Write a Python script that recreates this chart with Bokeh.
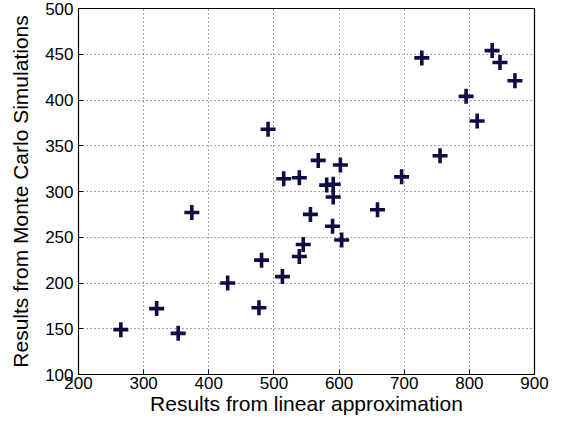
from bokeh.plotting import figure
from bokeh.models import FixedTicker, Range1d
from bokeh.embed import file_html
from bokeh.resources import INLINE

# Data
linear_approx = [491, 727, 835, 847, 870, 795, 812, 755, 696, 568, 602, 515, 539, 581, 591,
                 591, 374, 556, 659, 590, 604, 545, 539, 481, 513, 429, 477, 320, 265, 353]
monte_carlo = [368, 446, 454, 441, 421, 404, 377, 339, 316, 334, 329, 314, 315, 307, 308,
               294, 277, 275, 280, 262, 247, 242, 229, 225, 207, 200, 173, 172, 149, 145]
x_ticks = [200, 300, 400, 500, 600, 700, 800, 900]
y_ticks = [100, 150, 200, 250, 300, 350, 400, 450, 500]

FONT = "Liberation Sans"

p = figure(width=555, height=417, output_backend="svg", toolbar_location=None,
           x_range=Range1d(200, 900), y_range=Range1d(100, 500),
           min_border_left=78, min_border_right=21, min_border_top=8, min_border_bottom=0)
p.background_fill_color = "white"
p.border_fill_color = "white"
p.outline_line_color = "black"
p.outline_line_width = 1.2

p.scatter(linear_approx, monte_carlo, marker="cross", size=15, line_width=3.6,
          line_color="#0e0e45")

xax = p.below[0]
yax = p.left[0]
for ax in (xax, yax):
    ax.major_label_text_font = FONT
    ax.major_label_text_font_size = "17px"
    ax.major_label_text_color = "black"
    ax.axis_label_text_font = FONT
    ax.axis_label_text_font_size = "21px"
    ax.axis_label_text_font_style = "normal"
    ax.axis_label_text_color = "black"
    ax.major_tick_in = 5
    ax.major_tick_out = 0
    ax.minor_tick_in = 0
    ax.minor_tick_out = 0
    ax.axis_line_color = "black"
    ax.major_tick_line_color = "black"

xax.ticker = FixedTicker(ticks=x_ticks)
yax.ticker = FixedTicker(ticks=y_ticks)
xax.axis_label = "Results from linear approximation"
yax.axis_label = "Results from Monte Carlo Simulations"
xax.major_label_standoff = 2
xax.axis_label_standoff = 0
yax.major_label_standoff = 5
yax.axis_label_standoff = 10

p.xgrid.ticker = FixedTicker(ticks=x_ticks)
p.ygrid.ticker = FixedTicker(ticks=y_ticks)
for g in (p.xgrid[0], p.ygrid[0]):
    g.grid_line_color = "black"
    g.grid_line_alpha = 0.7
    g.grid_line_dash = "1 3"
    g.grid_line_width = 1

html = file_html(p, INLINE)
open("out.html", "w").write(html)
